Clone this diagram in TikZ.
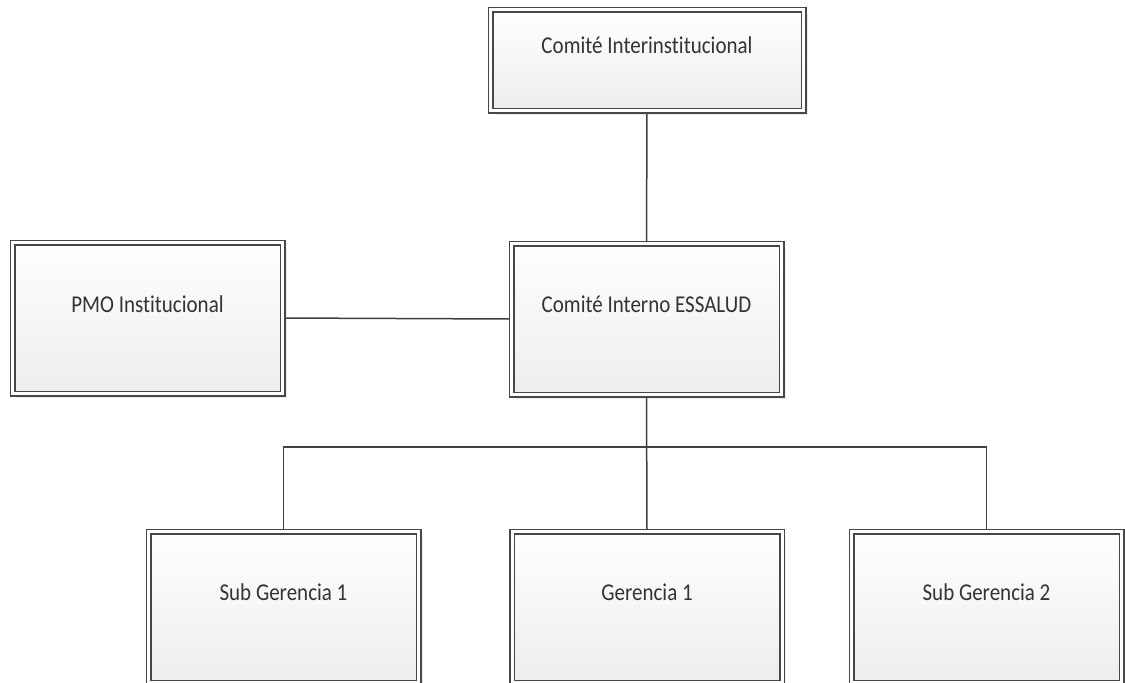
\documentclass[tikz,border=0pt]{standalone}
\usepackage{fontspec}
\setmainfont{Carlito}[Ligatures=NoCommon]
\usetikzlibrary{shadows}
\pgfdeclarelayer{background}
\pgfsetlayers{background,main}
\newcommand{\boxlabel}[1]{\scalebox{1}[1.15]{#1}}
\begin{document}
\begin{tikzpicture}[x=1pt,y=-1pt,
  orgbox/.style={draw=black!72, line width=1.5pt, double=white, double distance=3pt,
    top color=white, bottom color=black!7, minimum width=270pt, minimum height=151pt,
    inner sep=0pt, drop shadow={shadow xshift=4pt, shadow yshift=-4pt, opacity=0.2, fill=black!40}},
  boxtext/.style={font=\fontsize{21}{24}\selectfont, text=black!80, inner sep=0pt},
  link/.style={draw=black!75, line width=1.5pt}]
\useasboundingbox (0,0) rectangle (1125,683);
\clip (0,0) rectangle (1125,683);
\node[orgbox, minimum width=313pt, minimum height=101pt] (top) at (647,60) {};
\node[boxtext] (topt) at (647,45) {\boxlabel{Comité Interinstitucional}};
\node[orgbox] (pmo) at (147.5,318) {};
\node[boxtext] (pmot) at (147.5,304) {\boxlabel{PMO Institucional}};
\node[orgbox] (ess) at (646.5,319) {};
\node[boxtext] (esst) at (646.5,304) {\boxlabel{Comité Interno ESSALUD}};
\node[orgbox] (sg1) at (283.5,607) {};
\node[boxtext] (sg1t) at (283.5,592) {\boxlabel{Sub Gerencia 1}};
\node[orgbox] (g1) at (647,607) {};
\node[boxtext] (g1t) at (647,592) {\boxlabel{Gerencia 1}};
\node[orgbox] (sg2) at (986.5,607) {};
\node[boxtext] (sg2t) at (986.5,592) {\boxlabel{Sub Gerencia 2}};
\coordinate (bus) at (647,447);
\begin{pgfonlayer}{background}
\draw[link] (top.south) -- (ess.north);
\draw[link] (pmo.east) -- (ess.west);
\draw[link] (ess.south) -- (g1.north);
\draw[link] (sg1.north) |- (bus) -| (sg2.north);
\end{pgfonlayer}
\end{tikzpicture}
\end{document}
